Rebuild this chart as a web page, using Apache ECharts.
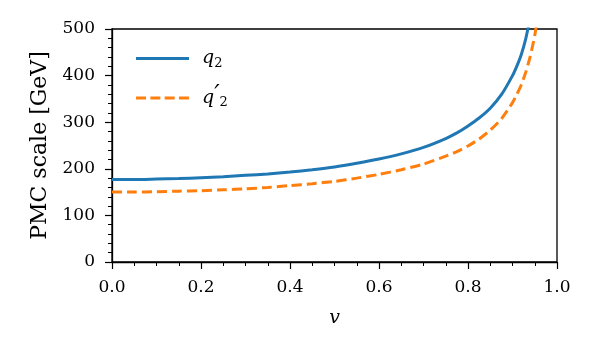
<!DOCTYPE html>
<html>
<head>
<meta charset="utf-8">
<script src="https://cdn.jsdelivr.net/npm/echarts@6/dist/echarts.min.js"></script>
<style>
  html, body { margin: 0; padding: 0; background: #fff; }
  #chart { width: 598px; height: 342px; }
</style>
</head>
<body>
<div id="chart"></div>
<script>
// values
var vVals   = [0, 0.05, 0.1, 0.15, 0.2, 0.25, 0.3, 0.35, 0.4, 0.45, 0.5, 0.55, 0.6, 0.65, 0.7,
               0.75, 0.775, 0.8, 0.825, 0.85, 0.875, 0.9, 0.91, 0.92, 0.93, 0.94, 0.95, 0.96];
var q2Vals  = [177, 177, 178, 179, 181, 183, 186, 189, 193, 198, 204, 212, 221, 232, 246,
               265, 277, 292, 309, 330, 359, 400, 421, 446, 480, 525, 570, 630];
var q2pVals = [150, 150, 151, 152, 153, 155, 157, 160, 164, 168, 173, 180, 188, 198, 210,
               227, 237, 249, 264, 283, 307, 342, 360, 381, 408, 442, 486, 545];
var seriesNames = ['q2', "q2'"];

var serif = 'DejaVu Serif';
var blue = '#1f77b4';
var orange = '#ff7f0e';

var pairs = function(xs, ys) {
    var out = [];
    for (var i = 0; i < xs.length; i++) {
        out.push([xs[i], ys[i]]);
    }
    return out;
};

// legend icons: plain bar for solid, four dashes for dashed
var solidIcon = 'rect';
var dashIcon = 'path://M0,0h10v3h-10z M14.3,0h10v3h-10z M28.6,0h10v3h-10z M42.9,0h10v3h-10z';

var chart = echarts.init(document.getElementById('chart'), null, { renderer: 'canvas' });

var option = {
    animation: false,
    backgroundColor: '#fff',
    grid: {
        left: 112, right: 41, top: 29, bottom: 80,
        show: true, borderColor: '#000', borderWidth: 1.3, backgroundColor: 'transparent'
    },
    legend: {
        orient: 'vertical',
        left: 131, top: 44,
        itemWidth: 53, itemHeight: 3, itemGap: 14,
        data: [
            { name: seriesNames[0], icon: solidIcon },
            { name: seriesNames[1], icon: dashIcon }
        ],
        formatter: function(name) {
            return name === 'q2' ? '{q|q}{s|2}' : '{q|q}{p|\u2032}{s|2}';
        },
        textStyle: {
            padding: [0, 0, 0, 8],
            rich: {
                q: { fontFamily: serif, fontStyle: 'italic', fontSize: 19, color: '#000', lineHeight: 24 },
                s: { fontFamily: serif, fontSize: 13, color: '#000', padding: [10, 0, 0, 0] },
                p: { fontFamily: serif, fontStyle: 'italic', fontSize: 24, color: '#000', padding: [0, 0, 4, 0] }
            }
        }
    },
    xAxis: {
        type: 'value',
        min: 0, max: 1, interval: 0.2,
        name: 'v',
        nameLocation: 'middle',
        nameGap: 47,
        nameTextStyle: { fontFamily: serif, fontStyle: 'italic', fontSize: 19, color: '#000' },
        axisLine: { show: true, onZero: false, lineStyle: { color: '#000', width: 1.3 } },
        axisTick: { show: true, inside: false, length: 7, lineStyle: { color: '#000', width: 1.2 } },
        minorTick: { show: true, splitNumber: 4, length: 4, lineStyle: { color: '#000', width: 1 } },
        splitLine: { show: false },
        axisLabel: {
            margin: 17,
            fontFamily: serif, fontSize: 17, color: '#000',
            formatter: function(v) { return v.toFixed(1); }
        }
    },
    yAxis: {
        type: 'value',
        min: 0, max: 500, interval: 100,
        name: 'PMC scale [GeV]',
        nameLocation: 'middle',
        nameGap: 60,
        nameTextStyle: { fontFamily: serif, fontSize: 22, color: '#000' },
        axisLine: { show: true, lineStyle: { color: '#000', width: 1.3 } },
        axisTick: { show: true, inside: false, length: 7, lineStyle: { color: '#000', width: 1.2 } },
        minorTick: { show: true, splitNumber: 5, length: 4, lineStyle: { color: '#000', width: 1 } },
        splitLine: { show: false },
        axisLabel: { margin: 17, fontFamily: serif, fontSize: 17, color: '#000' }
    },
    series: [
        {
            name: seriesNames[0],
            type: 'line',
            data: pairs(vVals, q2Vals),
            symbol: 'none',
            smooth: 0.2,
            clip: true,
            color: blue,
            itemStyle: { color: blue },
            lineStyle: { color: blue, width: 3 }
        },
        {
            name: seriesNames[1],
            type: 'line',
            data: pairs(vVals, q2pVals),
            symbol: 'none',
            smooth: 0.2,
            clip: true,
            color: orange,
            itemStyle: { color: orange },
            lineStyle: { color: orange, width: 3, type: [10, 5] }
        }
    ]
};

chart.setOption(option);
</script>
</body>
</html>
